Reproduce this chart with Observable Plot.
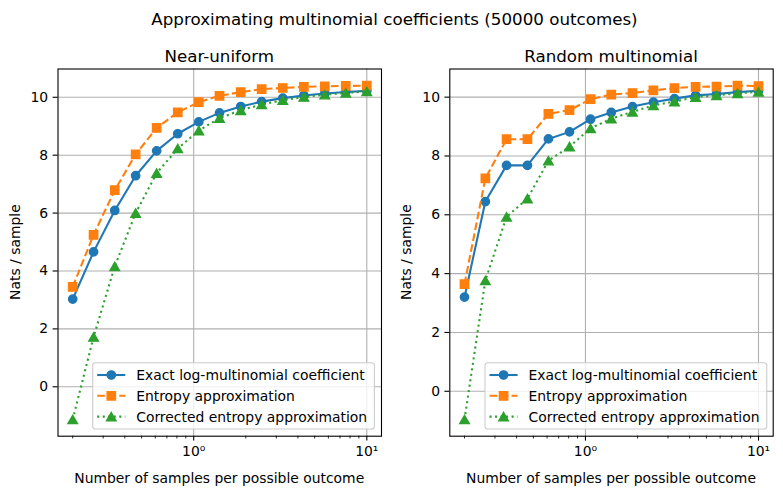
<!DOCTYPE html>
<html>
<head>
<meta charset="utf-8">
<script src="https://cdn.jsdelivr.net/npm/d3@7"></script>
<script src="https://cdn.jsdelivr.net/npm/@observablehq/plot@0.6"></script>
<style>
  html, body { margin: 0; padding: 0; background: white; }
  #wrap { position: relative; width: 783px; height: 494px; background: white; font-family: "DejaVu Sans", sans-serif; overflow: hidden; }
  .panel { position: absolute; top: 0; }
  #overlay { position: absolute; left: 0; top: 0; pointer-events: none; }
</style>
</head>
<body>
<div id="wrap">
  <div class="panel" id="p1" style="left:0px"></div>
  <div class="panel" id="p2" style="left:392px"></div>
</div>
<script>
// ---- Data ----
const xSamples = [0.2, 0.264, 0.35, 0.462, 0.611, 0.809, 1.07, 1.41, 1.87, 2.47, 3.27, 4.33, 5.72, 7.56, 10];

const nuExact     = [3.03, 4.66, 6.09, 7.29, 8.15, 8.74, 9.15, 9.46, 9.68, 9.85, 9.97, 10.06, 10.13, 10.18, 10.22];
const nuEntropy   = [3.45, 5.25, 6.79, 8.03, 8.94, 9.48, 9.83, 10.05, 10.18, 10.28, 10.32, 10.36, 10.38, 10.39, 10.40];
const nuCorrected = [-1.13, 1.72, 4.16, 6.00, 7.38, 8.23, 8.85, 9.28, 9.55, 9.75, 9.90, 10.01, 10.09, 10.15, 10.20];

const rmExact     = [3.20, 6.45, 7.68, 7.68, 8.58, 8.82, 9.25, 9.48, 9.68, 9.83, 9.95, 10.06, 10.11, 10.17, 10.22];
const rmEntropy   = [3.64, 7.24, 8.57, 8.57, 9.43, 9.56, 9.93, 10.09, 10.14, 10.23, 10.31, 10.35, 10.36, 10.39, 10.38];
const rmCorrected = [-0.96, 3.77, 5.93, 6.55, 7.84, 8.32, 8.94, 9.27, 9.50, 9.72, 9.85, 10.00, 10.06, 10.13, 10.18];

const yTicks = [0, 2, 4, 6, 8, 10];
const xMajor = [1, 10];
const xMajorLabels = ["10⁰", "10¹"];
const xMinor = [0.2, 0.3, 0.4, 0.5, 0.6, 0.7, 0.8, 0.9, 2, 3, 4, 5, 6, 7, 8, 9];

const seriesNames = ["Exact log-multinomial coefficient", "Entropy approximation", "Corrected entropy approximation"];
const seriesColors = ["#1f77b4", "#ff7f0e", "#2ca02c"];
const panelTitles = ["Near-uniform", "Random multinomial"];
const suptitle = "Approximating multinomial coefficients (50000 outcomes)";
const xLabel = "Number of samples per possible outcome";
const yLabel = "Nats / sample";

// ---- Styles ----
const LW = 2.08;
const dashStyles = [null, "7.7,3.33", "2.08,3.44"];
const symbols = ["circle", "square", "triangle"];
const symR = [4.17, 4.7, 3.55];
const symDy = [0, 0, 1.4];

function rows(ys) { return xSamples.map((x, i) => ({x, y: ys[i]})); }

function seriesMarks(ys, k) {
  const opts = {x: "x", y: "y", stroke: seriesColors[k], strokeWidth: LW};
  if (dashStyles[k]) { opts.strokeDasharray = dashStyles[k]; opts.strokeLinecap = "butt"; }
  return [
    Plot.line(rows(ys), opts),
    Plot.dot(rows(ys), {x: "x", y: "y", symbol: symbols[k], r: symR[k], dy: symDy[k],
      fill: seriesColors[k], stroke: seriesColors[k], strokeWidth: 1.39})
  ];
}

function panel(exact, entropy, corrected, mLeft, mRight) {
  const all = exact.concat(entropy, corrected);
  const lo = d3.min(all), hi = d3.max(all), pad = (hi - lo) * 0.05;
  const lx0 = Math.log10(d3.min(xSamples)), lx1 = Math.log10(d3.max(xSamples)), px = (lx1 - lx0) * 0.05;
  return Plot.plot({
    width: 391, height: 494,
    marginLeft: mLeft, marginRight: mRight, marginTop: 68.5, marginBottom: 58.3,
    style: {fontFamily: "DejaVu Sans", fontSize: "13.9px", color: "black", background: "transparent", overflow: "visible"},
    x: {type: "log", domain: [10 ** (lx0 - px), 10 ** (lx1 + px)]},
    y: {domain: [lo - pad, hi + pad]},
    marks: [
      Plot.gridX(xMajor, {stroke: "#b0b0b0", strokeOpacity: 1, strokeWidth: 1.1}),
      Plot.gridY(yTicks, {stroke: "#b0b0b0", strokeOpacity: 1, strokeWidth: 1.1}),
      ...seriesMarks(exact, 0),
      ...seriesMarks(entropy, 1),
      ...seriesMarks(corrected, 2),
      Plot.frame({stroke: "black", strokeWidth: 1.1}),
      Plot.axisX(xMinor, {tickSize: 2.8, tickFormat: () => "", label: null, strokeWidth: 0.83}),
      Plot.axisX(xMajor, {tickSize: 4.9, tickPadding: 4.9, tickFormat: d => xMajorLabels[xMajor.indexOf(d)], label: null, strokeWidth: 1.1}),
      Plot.axisY(yTicks, {tickSize: 4.9, tickPadding: 4.9, label: null, strokeWidth: 1.1})
    ]
  });
}

document.getElementById("p1").appendChild(panel(nuExact, nuEntropy, nuCorrected, 57.5, 10));
document.getElementById("p2").appendChild(panel(rmExact, rmEntropy, rmCorrected, 57.3, 10.3));

// ---- Overlay: titles, axis labels, legends ----
const svg = d3.select("#wrap").append("svg").attr("id", "overlay")
  .attr("width", 783).attr("height", 494)
  .style("font-family", "DejaVu Sans");

svg.append("text").attr("x", 394.5).attr("y", 24.5).attr("text-anchor", "middle")
  .attr("font-size", 16.7).text(suptitle);

const axesBoxes = [{l: 57.5, r: 381, t: 68.5, b: 435.7, legendL: 92.7}, {l: 449.3, r: 772.7, t: 68.5, b: 435.7, legendL: 485}];
axesBoxes.forEach((bx, i) => {
  const cx = (bx.l + bx.r) / 2;
  svg.append("text").attr("x", cx).attr("y", 61.5).attr("text-anchor", "middle")
    .attr("font-size", 16.7).text(panelTitles[i]);
  svg.append("text").attr("x", cx).attr("y", 482.5).attr("text-anchor", "middle")
    .attr("font-size", 13.9).text(xLabel);
  const ly = (bx.t + bx.b) / 2;
  svg.append("text").attr("transform", `translate(${bx.l - 38},${ly}) rotate(-90)`)
    .attr("text-anchor", "middle").attr("font-size", 13.9).text(yLabel);

  // legend
  const L = bx.legendL, T = 362.7, W = 281.7, H = 66.3;
  const g = svg.append("g");
  g.append("rect").attr("x", L).attr("y", T).attr("width", W).attr("height", H)
    .attr("rx", 2.8).attr("fill", "white").attr("fill-opacity", 0.8)
    .attr("stroke", "#cccccc").attr("stroke-width", 1.1);
  seriesNames.forEach((name, k) => {
    const cy = T + 12.3 + k * 20.8;
    const ln = g.append("line").attr("x1", L + 4.5).attr("x2", L + 32.6).attr("y1", cy).attr("y2", cy)
      .attr("stroke", seriesColors[k]).attr("stroke-width", LW);
    if (dashStyles[k]) ln.attr("stroke-dasharray", dashStyles[k]);
    const sym = {circle: d3.symbolCircle, square: d3.symbolSquare, triangle: d3.symbolTriangle}[symbols[k]];
    g.append("path").attr("d", d3.symbol(sym, Math.PI * symR[k] * symR[k])())
      .attr("transform", `translate(${L + 18.6},${cy + symDy[k]})`)
      .attr("fill", seriesColors[k]).attr("stroke", seriesColors[k]).attr("stroke-width", 1.39);
    g.append("text").attr("x", L + 43.5).attr("y", cy + 5).attr("font-size", 13.9).text(name);
  });
});
</script>
</body>
</html>
